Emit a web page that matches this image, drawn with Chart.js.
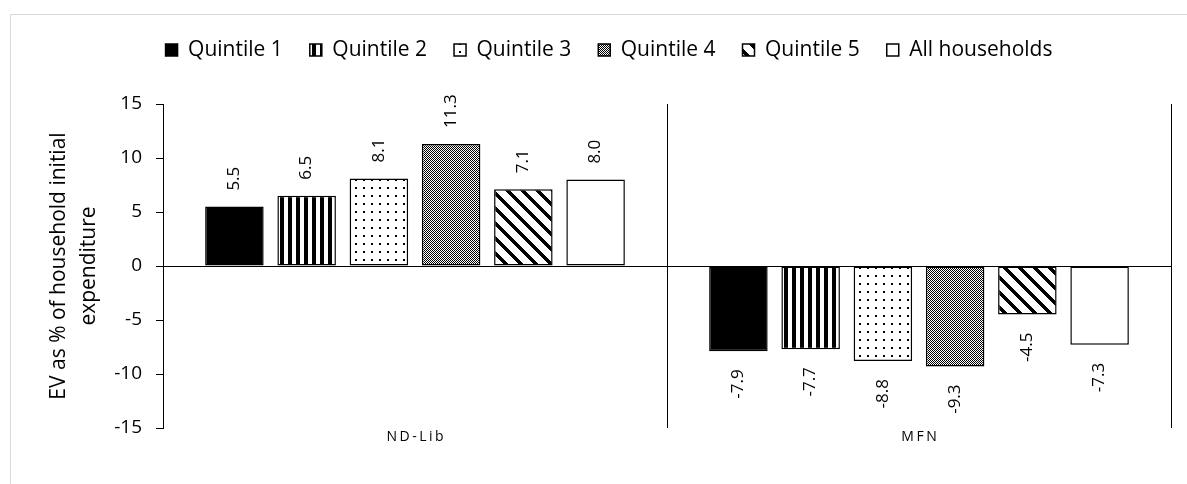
<!DOCTYPE html>
<html><head><meta charset="utf-8">
<script src="https://cdn.jsdelivr.net/npm/chart.js@4"></script>
<style>html,body{margin:0;padding:0;background:#fff}canvas{display:block}</style>
</head><body>
<canvas id="c" width="1187" height="484"></canvas>
<script>
const categories = ['ND-Lib', 'MFN'];
const seriesNames = ['Quintile 1', 'Quintile 2', 'Quintile 3', 'Quintile 4', 'Quintile 5', 'All households'];
const quintile1 = [5.5, -7.9];
const quintile2 = [6.5, -7.7];
const quintile3 = [8.1, -8.8];
const quintile4 = [11.3, -9.3];
const quintile5 = [7.1, -4.5];
const allHouseholds = [8.0, -7.3];
const yTicks = [-15, -10, -5, 0, 5, 10, 15];
const yTitle = ['EV as % of household initial', 'expenditure'];

const FONT = "'Open Sans', sans-serif";

function makePattern(w, h, isBlack) {
  const c = document.createElement('canvas'); c.width = w; c.height = h;
  const g = c.getContext('2d');
  const img = g.createImageData(w, h);
  for (let y = 0; y < h; y++) for (let x = 0; x < w; x++) {
    const v = isBlack(x, y) ? 0 : 255; const i = (y * w + x) * 4;
    img.data[i] = v; img.data[i + 1] = v; img.data[i + 2] = v; img.data[i + 3] = 255;
  }
  g.putImageData(img, 0, 0);
  return document.createElement('canvas').getContext('2d').createPattern(c, 'repeat');
}
const fills = [
  '#000000',
  makePattern(8, 1, (x) => x < 4),
  makePattern(8, 8, (x, y) => x >= 3 && x < 5 && y >= 3 && y < 5),
  makePattern(4, 4, (x, y) => (x + y) % 2 === 0 || (x === 1 && y === 3)),
  makePattern(15, 15, (x, y) => ((x - y + 15) % 15) < 5),
  '#ffffff'
];
const seriesValues = [quintile1, quintile2, quintile3, quintile4, quintile5, allHouseholds];

const frame = {
  id: 'frame',
  beforeDraw(chart) {
    const c = chart.ctx;
    c.save();
    c.fillStyle = '#fff'; c.fillRect(0, 0, chart.width, chart.height);
    c.strokeStyle = '#d9d9d9'; c.lineWidth = 1;
    c.strokeRect(10.5, 14.5, 1400, 600);
    c.restore();
  }
};

const valueLabels = {
  id: 'valueLabels',
  afterDatasetsDraw(chart) {
    const c = chart.ctx;
    c.save();
    c.font = '17px ' + FONT; c.fillStyle = '#000'; c.textBaseline = 'middle';
    chart.data.datasets.forEach((ds, di) => {
      chart.getDatasetMeta(di).data.forEach((bar, i) => {
        const v = ds.data[i];
        const txt = v.toFixed(1);
        c.save();
        if (v >= 0) { c.translate(bar.x, bar.y - 16); c.rotate(-Math.PI / 2); c.textAlign = 'left'; }
        else { c.translate(bar.x, bar.y + 18); c.rotate(-Math.PI / 2); c.textAlign = 'right'; }
        c.fillText(txt, 0, 0);
        c.restore();
      });
    });
    c.restore();
  }
};

const catLabels = {
  id: 'catLabels',
  afterDatasetsDraw(chart) {
    const c = chart.ctx, xs = chart.scales.x;
    c.save();
    c.font = '14px ' + FONT; c.fillStyle = '#000'; c.textAlign = 'center'; c.textBaseline = 'middle';
    try { c.letterSpacing = '2.5px'; } catch (e) {}
    categories.forEach((lab, i) => {
      c.fillText(lab, xs.getPixelForValue(i) + 1.25, 437);
    });
    c.restore();
  }
};

new Chart(document.getElementById('c'), {
  type: 'bar',
  data: {
    labels: categories,
    datasets: seriesNames.map((n, k) => ({
      label: n,
      data: seriesValues[k],
      backgroundColor: fills[k],
      borderColor: '#000',
      borderWidth: 1.5,
      borderSkipped: false,
      categoryPercentage: 0.86,
      barPercentage: 0.81
    }))
  },
  options: {
    responsive: false,
    animation: false,
    devicePixelRatio: 1,
    layout: { padding: { top: 12.5, left: 47, right: 16, bottom: 0 } },
    plugins: {
      legend: {
        position: 'top',
        labels: { boxWidth: 12, boxHeight: 12, padding: 27, color: '#000', font: { family: FONT, size: 21 } }
      },
      tooltip: { enabled: false }
    },
    scales: {
      x: {
        type: 'category',
        grid: { display: true, offset: true, color: '#000', lineWidth: 1, drawTicks: false },
        border: { display: false },
        ticks: { display: false },
        afterFit(s) { s.height = 56; }
      },
      x2: {
        type: 'category',
        position: 'top',
        grid: { display: false },
        border: { display: false },
        ticks: { display: false },
        afterFit(s) { s.height = 33.5; }
      },
      y: {
        min: -15, max: 15,
        afterBuildTicks(s) { s.ticks = yTicks.map(v => ({ value: v })); },
        afterFit(s) { s.width = 116; },
        grid: {
          color: (ctx) => (ctx.tick && ctx.tick.value === 0) ? '#000' : 'rgba(0,0,0,0)',
          tickColor: '#000', tickLength: 7, lineWidth: 1, drawOnChartArea: true
        },
        border: { display: true, color: '#000', width: 1 },
        ticks: { color: '#000', font: { family: FONT, size: 19 }, padding: 14 },
        title: {
          display: true, text: yTitle, color: '#000',
          font: { family: FONT, size: 21, lineHeight: 1.45 },
          padding: { top: -3.25, bottom: 0 }
        }
      }
    }
  },
  plugins: [frame, valueLabels, catLabels]
});
</script>
</body></html>
